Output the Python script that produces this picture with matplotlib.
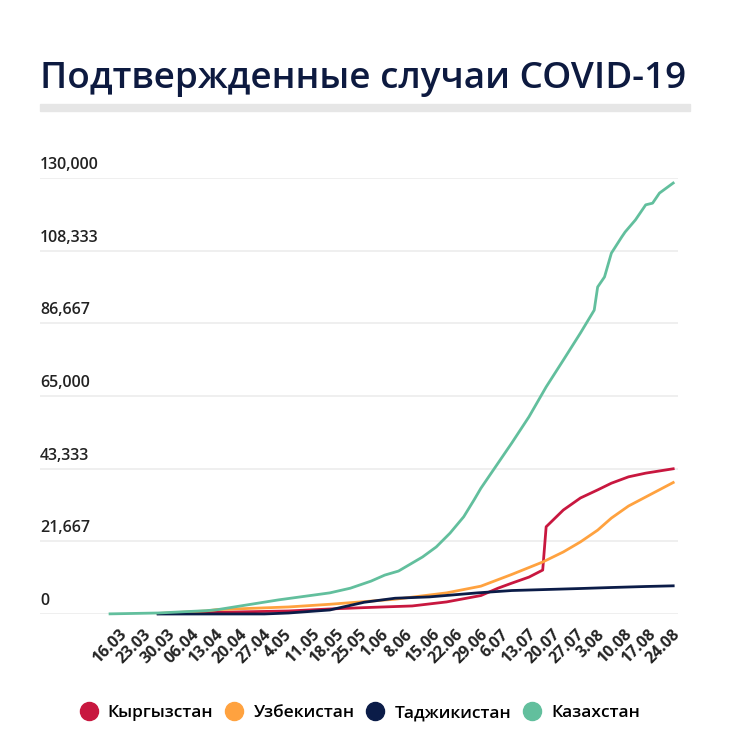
import matplotlib
matplotlib.use("Agg")
import matplotlib.pyplot as plt
from matplotlib.lines import Line2D
import pandas as pd

plt.rcParams['font.family'] = ['Open Sans', 'DejaVu Sans']

# --- data (confirmed cases) ---
kz_dates = ["2020-03-16", "2020-03-30", "2020-04-13", "2020-04-16", "2020-05-04",
            "2020-05-19", "2020-05-25", "2020-05-31", "2020-06-04", "2020-06-08",
            "2020-06-11", "2020-06-15", "2020-06-19", "2020-06-23", "2020-06-27",
            "2020-06-30", "2020-07-02", "2020-07-07", "2020-07-11", "2020-07-16",
            "2020-07-21", "2020-07-26", "2020-07-31", "2020-08-04", "2020-08-05",
            "2020-08-07", "2020-08-09", "2020-08-12", "2020-08-13", "2020-08-16",
            "2020-08-19", "2020-08-21", "2020-08-23", "2020-08-27"]
kz_cases = [40, 300, 1000, 1250, 4200,
            6300, 7700, 9800, 11600, 12800,
            14600, 17000, 20000, 24100, 29000,
            34000, 37500, 45000, 51000, 58800,
            67700, 75700, 83800, 90600, 97500,
            100500, 107600, 112400, 113900, 117500,
            122000, 122500, 125500, 128500]

kg_dates = ["2020-03-30", "2020-04-16", "2020-05-07", "2020-05-19", "2020-05-29",
            "2020-06-12", "2020-06-22", "2020-07-02", "2020-07-07", "2020-07-11",
            "2020-07-16", "2020-07-20", "2020-07-21", "2020-07-26", "2020-07-31",
            "2020-08-05", "2020-08-09", "2020-08-14", "2020-08-19", "2020-08-27"]
kg_cases = [100, 500, 900, 1500, 1900,
            2400, 3600, 5500, 7700, 9200,
            11000, 13100, 26000, 31000, 34600,
            37000, 39000, 40900, 42000, 43300]

uz_dates = ["2020-03-30", "2020-04-13", "2020-04-16", "2020-05-07", "2020-05-19",
            "2020-06-07", "2020-06-22", "2020-07-02", "2020-07-11", "2020-07-20",
            "2020-07-26", "2020-07-31", "2020-08-05", "2020-08-09", "2020-08-14",
            "2020-08-27"]
uz_cases = [150, 900, 1300, 2100, 2900,
            4400, 6300, 8300, 11800, 15500,
            18500, 21500, 25000, 28600, 32200,
            39200]

tj_dates = ["2020-03-30", "2020-04-30", "2020-05-07", "2020-05-19", "2020-05-29",
            "2020-06-07", "2020-06-17", "2020-07-01", "2020-07-11", "2020-07-21",
            "2020-07-31", "2020-08-09", "2020-08-19", "2020-08-27"]
tj_cases = [0, 15, 300, 1200, 3500,
            4700, 5100, 6300, 7000, 7300,
            7600, 7900, 8200, 8400]

tick_labels = ["16.03", "23.03", "30.03", "06.04", "13.04", "20.04", "27.04",
               "4.05", "11.05", "18.05", "25.05", "1.06", "8.06", "15.06",
               "22.06", "29.06", "6.07", "13.07", "20.07", "27.07", "3.08",
               "10.08", "17.08", "24.08"]
y_ticks = [0, 21667, 43333, 65000, 86667, 108333, 130000]

series = [
    ("Кыргызстан", kg_dates, kg_cases, "#c8173f"),
    ("Узбекистан", uz_dates, uz_cases, "#ffa23f"),
    ("Таджикистан", tj_dates, tj_cases, "#0b1c48"),
    ("Казахстан", kz_dates, kz_cases, "#62bf9d"),
]

W, H = 730, 738
fig = plt.figure(figsize=(W / 100, H / 100), dpi=100)
fig.patch.set_facecolor("white")

# axes placed in pixel terms: left 40, right 678, top 178, bottom 614
ax = fig.add_axes([40 / W, 1 - 614 / H, (678 - 40) / W, (614 - 178) / H])

for name, d, v, c in series:
    ax.plot(pd.to_datetime(d), v, color=c, lw=2.0, solid_joinstyle="round",
            clip_on=False, zorder=3)

start = pd.Timestamp("2020-03-16")
ax.set_xlim(start - pd.Timedelta(days=20.4), start + pd.Timedelta(days=165.4))
ax.set_ylim(0, 130000)

ticks = pd.date_range("2020-03-16", periods=len(tick_labels), freq="7D")
ax.set_xticks(ticks)
ax.set_xticklabels(tick_labels, rotation=45, ha="center", fontsize=11.5,
                   fontweight="bold", color="#222222")
ax.tick_params(axis="x", length=0, pad=9)

ax.set_yticks(y_ticks)
ax.set_yticklabels([])
ax.tick_params(axis="y", length=0)
ax.grid(axis="y", color="#eeeeee", lw=1.3)
ax.set_axisbelow(True)
for s in ax.spines.values():
    s.set_visible(False)

for t in y_ticks:
    ax.text(0, t + 1500, f"{t:,}", transform=ax.get_yaxis_transform(),
            ha="left", va="bottom", fontsize=11.5, fontweight="semibold",
            color="#222222")

# title and grey rule under it
fig.text(40 / W, 1 - 88 / H, "Подтвержденные случаи COVID-19", ha="left",
         va="baseline", fontsize=26.6, fontweight="semibold", color="#0d1a40")
fig.patches.append(plt.Rectangle((40 / W, 1 - 111 / H), (690 - 40) / W, 7 / H,
                                 transform=fig.transFigure, color="#e6e6e6"))

handles = [Line2D([], [], ls="none", marker="o", markersize=13,
                  markerfacecolor=c, markeredgecolor=c) for _, _, _, c in series]
fig.legend(handles, [s[0] for s in series], loc="center",
           bbox_to_anchor=(360 / W, 1 - 713 / H), ncol=4, frameon=False,
           handlelength=1.0, handletextpad=0.6, columnspacing=0.7,
           prop={"weight": "semibold", "size": 12.5})

fig.savefig("out.png", dpi=100, facecolor="white")
